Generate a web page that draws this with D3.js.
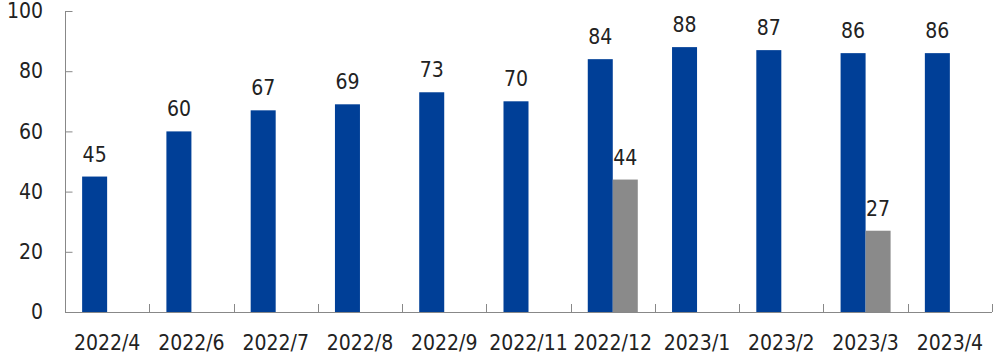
<!DOCTYPE html>
<html><head><meta charset="utf-8">
<script src="https://cdn.jsdelivr.net/npm/d3@7"></script>
<style>body{margin:0;background:#fff}svg{display:block}text{font-family:"DejaVu Sans Condensed","DejaVu Sans",sans-serif;font-stretch:condensed;fill:#222}</style>
</head><body><svg id="c" width="1000" height="361"></svg>
<script>
const categories = ["2022/4","2022/6","2022/7","2022/8","2022/9","2022/11","2022/12","2023/1","2023/2","2023/3","2023/4"];
const seriesA = [45,60,67,69,73,70,84,88,87,86,86];
const seriesB = [null,null,null,null,null,null,44,null,null,27,null];
const yTicks = [0,20,40,60,80,100];
const seriesColors = ["#003f97","#8a8a8a"];

const svg = d3.select("#c");
const mLeft = 65, mRight = 992, mTop = 11, mBottom = 312;
const x0 = d3.scaleBand().domain(categories).range([mLeft, mRight]).paddingInner(0).paddingOuter(0);
const x1 = d3.scaleBand().domain(["A","B"]).range([0, x0.bandwidth()]).paddingInner(0).paddingOuter(0.685);
const y = d3.scaleLinear().domain([0,100]).range([mBottom, mTop]);

const rows = categories.map((c,i)=>({c, vals:[{k:"A",v:seriesA[i],col:seriesColors[0]},{k:"B",v:seriesB[i],col:seriesColors[1]}]}));

const g = svg.append("g").selectAll("g").data(rows).join("g").attr("transform",d=>`translate(${x0(d.c)},0)`);
const vals = g.selectAll("g.v").data(d=>d.vals.filter(e=>e.v!=null)).join("g").attr("class","v");
vals.append("rect")
  .attr("x",d=>x1(d.k)).attr("width",x1.bandwidth())
  .attr("y",d=>y(d.v)).attr("height",d=>y(0)-y(d.v))
  .attr("fill",d=>d.col);
vals.append("text")
  .attr("x",d=>x1(d.k)+x1.bandwidth()/2).attr("y",d=>y(d.v)-15)
  .attr("text-anchor","middle").attr("font-size","21px").text(d=>d.v);

// y axis
const yAxis = svg.append("g").attr("transform",`translate(${mLeft},0)`)
  .call(d3.axisRight(y).tickValues(yTicks).tickSize(7).tickFormat(d3.format("d")));
yAxis.select(".domain").attr("stroke","#888").attr("d",`M0.5,${mTop}V${mBottom}`);
yAxis.selectAll(".tick line").attr("stroke","#888").attr("x1",0.5).attr("x2",7.5);
yAxis.selectAll(".tick text").attr("x",-22).attr("text-anchor","end").attr("font-size","21px").attr("fill","#222");

// x axis
const xAxis = svg.append("g").attr("transform",`translate(0,${mBottom})`)
  .call(d3.axisBottom(x0).tickSize(0));
xAxis.select(".domain").attr("stroke","#888").attr("d",`M${mLeft},0.5H${mRight}`);
xAxis.selectAll(".tick text").attr("y",23).attr("font-size","21px").attr("fill","#222");
// category boundary ticks
const bounds = categories.map(c=>x0(c)+x0.bandwidth());
xAxis.selectAll("line.b").data(bounds).join("line").attr("class","b")
  .attr("x1",d=>Math.round(d)+0.5).attr("x2",d=>Math.round(d)+0.5).attr("y1",0).attr("y2",-8)
  .attr("stroke","#888");
</script></body></html>
